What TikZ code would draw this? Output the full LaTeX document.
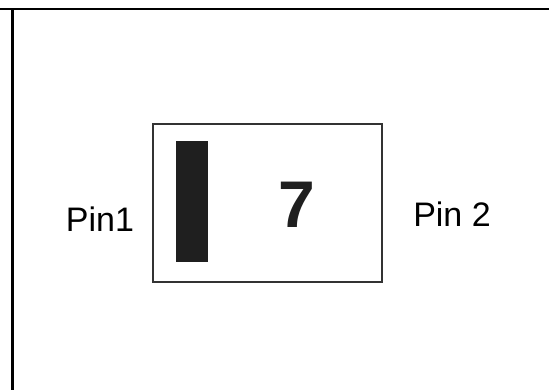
\documentclass[tikz,border=0pt]{standalone}
\usepackage{fontspec}
\setmainfont{Liberation Sans}
\begin{document}
\begin{tikzpicture}[x=1pt,y=-1pt,
  frameline/.style={line width=2.4pt,black},
  pinlabel/.style={inner sep=0pt,anchor=base,font=\fontsize{34}{36}\selectfont},
  digitlabel/.style={inner sep=0pt,anchor=base,font=\fontsize{66}{70}\selectfont\bfseries,text=black!88},
  devicebox/.style={draw=black!80,line width=1.2pt,fill=white},
  segbar/.style={fill=black!88,draw=none}]
\useasboundingbox (0,0) rectangle (549,390);
\coordinate (tl) at (0,8.8);
\coordinate (tr) at (549,8.8);
\coordinate (lt) at (12.5,8.8);
\coordinate (lb) at (12.5,390);
\draw[frameline] (tl) -- (tr);
\draw[frameline] (lt) -- (lb);
\node[devicebox,minimum width=229pt,minimum height=158pt,inner sep=0pt] (box) at (267.5,203) {};
\node[segbar,minimum width=32pt,minimum height=121pt,inner sep=0pt] (bar) at (192,201.5) {};
\node[digitlabel] (seven) at (297,228) {7};
\node[pinlabel] (pin1) at (100,232) {Pin1};
\node[pinlabel] (pin2) at (452,227) {Pin 2};
\end{tikzpicture}
\end{document}
